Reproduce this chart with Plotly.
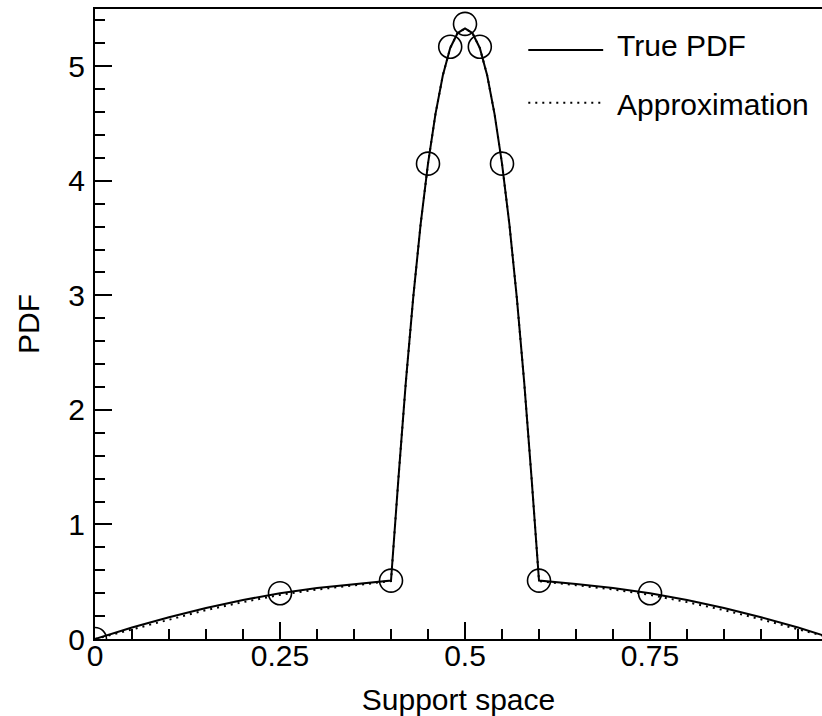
import plotly.graph_objects as go

# True PDF sampled along the support
x_true = [0.0, 0.05, 0.10, 0.15, 0.20, 0.25, 0.30, 0.35, 0.40,
          0.41, 0.42, 0.43, 0.44, 0.45, 0.46, 0.47, 0.48, 0.49, 0.50,
          0.51, 0.52, 0.53, 0.54, 0.55, 0.56, 0.57, 0.58, 0.59, 0.60,
          0.65, 0.70, 0.75, 0.80, 0.85, 0.90, 0.95, 1.0]
y_true = [0.0, 0.10, 0.19, 0.27, 0.34, 0.40, 0.445, 0.48, 0.51,
          1.40, 2.24, 2.98, 3.62, 4.15, 4.58, 4.92, 5.16, 5.29, 5.33,
          5.29, 5.16, 4.92, 4.58, 4.15, 3.62, 2.98, 2.24, 1.40, 0.51,
          0.48, 0.445, 0.40, 0.34, 0.27, 0.19, 0.10, 0.0]

# Approximation sampled on the same grid
y_approx = [0.0, 0.085, 0.172, 0.252, 0.322, 0.385, 0.432, 0.47, 0.505,
            1.40, 2.24, 2.98, 3.62, 4.15, 4.58, 4.92, 5.16, 5.29, 5.33,
            5.29, 5.16, 4.92, 4.58, 4.15, 3.62, 2.98, 2.24, 1.40, 0.505,
            0.47, 0.432, 0.385, 0.322, 0.252, 0.172, 0.085, 0.0]

# Interpolation nodes
x_nodes = [0.0, 0.25, 0.40, 0.45, 0.48, 0.50, 0.52, 0.55, 0.60, 0.75, 1.0]
y_nodes = [0.0, 0.40, 0.51, 4.15, 5.17, 5.37, 5.17, 4.15, 0.51, 0.40, 0.0]

x_tickvals = [0, 0.25, 0.5, 0.75]
x_ticktext = ["0", "0.25", "0.5", "0.75"]
y_tickvals = [0, 1, 2, 3, 4, 5]
y_ticktext = ["0", "1", "2", "3", "4", "5"]

legend_labels = ["True PDF", "Approximation"]

FONT = "Liberation Sans, Arial, Helvetica, sans-serif"
FS = 30
DOTS = "2px,5px"

fig = go.Figure()
fig.add_trace(go.Scatter(x=x_true, y=y_true, mode="lines", name=legend_labels[0],
                         line=dict(color="black", width=2), showlegend=False))
fig.add_trace(go.Scatter(x=x_true, y=y_approx, mode="lines", name=legend_labels[1],
                         line=dict(color="black", width=2, dash=DOTS), showlegend=False))
fig.add_trace(go.Scatter(x=x_nodes, y=y_nodes, mode="markers", name="nodes",
                         marker=dict(symbol="circle-open", size=23, color="black",
                                     line=dict(width=1.6, color="black")),
                         showlegend=False))

# Hand-drawn legend: long line samples with labels
leg_x0, leg_x1, leg_tx = 0.596, 0.699, 0.715
rows = [(0.935, 0.942, "solid"), (0.851, 0.848, DOTS)]
for (ly, ty, dash), label in zip(rows, legend_labels):
    fig.add_shape(type="line", xref="paper", yref="paper",
                  x0=leg_x0, x1=leg_x1, y0=ly, y1=ly,
                  line=dict(color="black", width=2, dash=dash))
    fig.add_annotation(xref="paper", yref="paper", x=leg_tx, y=ty, text=label,
                       showarrow=False, xanchor="left", yanchor="middle",
                       font=dict(family=FONT, size=FS, color="black"))

axis_common = dict(
    showline=True, linecolor="black", linewidth=2,
    ticks="inside", ticklen=17, tickwidth=2, tickcolor="black",
    showgrid=False, zeroline=False,
    tickfont=dict(family=FONT, size=FS, color="black"),
)

fig.update_xaxes(
    range=[0, 0.9824], mirror=True,
    tickvals=x_tickvals, ticktext=x_ticktext,
    minor=dict(dtick=0.05, tick0=0, ticks="inside", ticklen=10, tickwidth=2, tickcolor="black"),
    ticklabelstandoff=-11,
    title=dict(text="Support space", font=dict(family=FONT, size=FS, color="black"), standoff=18),
    **axis_common,
)
fig.update_yaxes(
    range=[0, 5.5],
    tickvals=y_tickvals, ticktext=y_ticktext,
    minor=dict(dtick=0.2, tick0=0, ticks="inside", ticklen=10, tickwidth=2, tickcolor="black"),
    ticklabelstandoff=2,
    title=dict(text="PDF", font=dict(family=FONT, size=FS, color="black"), standoff=20),
    **axis_common,
)

fig.update_layout(
    width=822, height=716,
    margin=dict(l=95, r=0, t=9, b=77),
    paper_bgcolor="white", plot_bgcolor="white",
    font=dict(family=FONT, color="black"),
)

fig.write_html("out.html")
